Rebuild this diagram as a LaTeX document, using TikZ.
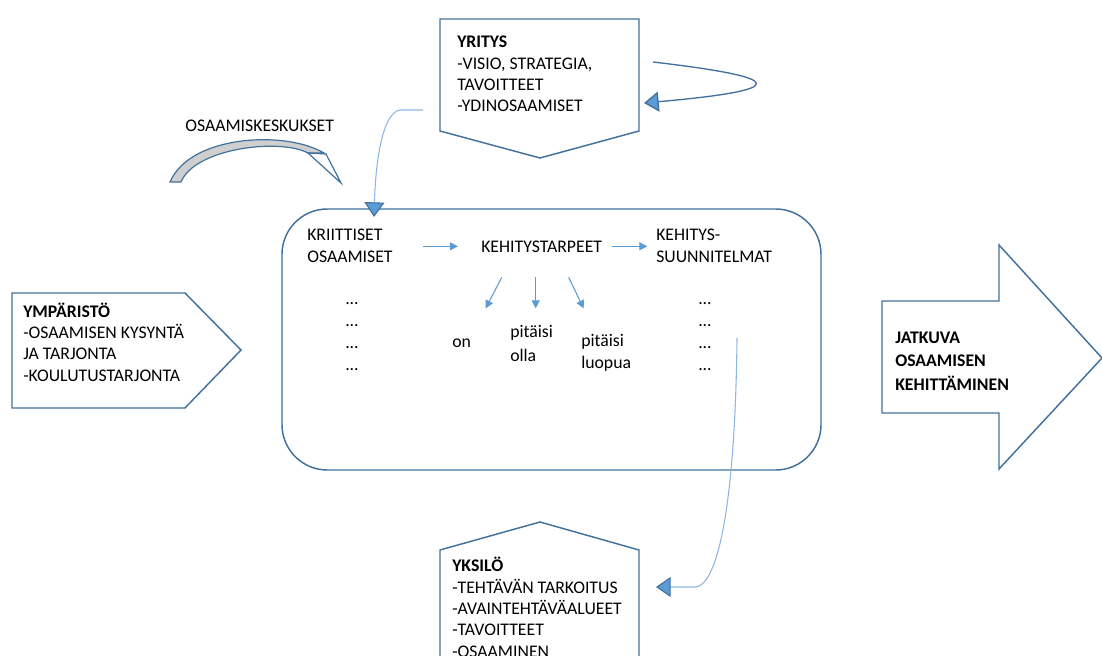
\documentclass[tikz,border=0pt]{standalone}
\usepackage{fontspec}
\setmainfont{Carlito}
\usepackage{tikz}
\usetikzlibrary{arrows.meta,positioning,calc}
\definecolor{KBBlue}   {HTML}{41719C}
\definecolor{KBFill}   {HTML}{5B9BD5}
\definecolor{KBLight}  {HTML}{8DB6E2}
\definecolor{KBGray}   {HTML}{CFCFCF}

\tikzset{
  boxline/.style={draw=KBBlue,line width=1.1pt,line join=miter},
  txt/.style={inner sep=0pt,align=left,font=\fontsize{13.3}{16}\selectfont},
  flow/.style={draw=KBFill,line width=0.8pt,-{Triangle[length=6pt,width=6pt]}},
  bighead/.style={-{Triangle[length=11pt,width=15pt,fill=KBFill,color=KBBlue]}},
}

\begin{document}
\begin{tikzpicture}[x=0.75pt,y=-0.75pt]
    \useasboundingbox (0,0) rectangle (1102,656);
    \clip (0,0) rectangle (1102,656);

    % Shapes
    \draw[boxline] (440,19) -- (639,19) -- (639,131) -- (540,158) -- (440,131) -- cycle;
    \draw[boxline] (440,690) -- (440,550) -- (540,522) -- (639,550) -- (639,690);
    \draw[boxline] (12,293) -- (185,293) -- (241,350) -- (185,408) -- (12,408) -- cycle;
    \draw[boxline] (882,301) -- (999,301) -- (999,245) -- (1102,358) -- (999,469) -- (999,413) -- (882,413) -- cycle;
    \draw[boxline,rounded corners=34pt] (282,209) rectangle (821,470);

    % Osaamiskeskukset arrow
    \filldraw[boxline,fill=KBGray,line width=0.9pt] (170,182) .. controls (190,135) and (285,130) .. (324,153)
      -- (308,153) .. controls (280,138) and (195,148) .. (181,182) -- cycle;
    \filldraw[boxline,fill=white,line width=0.9pt] (308,153) -- (326,154) -- (341,183) -- cycle;
    \node[txt,anchor=base west] (keskus) at (185,132) {OSAAMISKESKUKSET};

    % Box texts (anchor = baseline of last line)
    \node[txt,anchor=base west] (yritys) at (457,112)
      {\textbf{YRITYS}\\-VISIO, STRATEGIA,\\TAVOITTEET\\-YDINOSAAMISET};
    \node[txt,anchor=base west] (ymparisto) at (23,381)
      {\textbf{YMPÄRISTÖ}\\-OSAAMISEN KYSYNTÄ\\JA TARJONTA\\-KOULUTUSTARJONTA};
    \node[txt,anchor=base west] (yksilo) at (452,657)
      {\textbf{YKSILÖ}\\-TEHTÄVÄN TARKOITUS\\-AVAINTEHTÄVÄALUEET\\-TAVOITTEET\\-OSAAMINEN};
    \node[txt,anchor=base west,font=\fontsize{13.3}{17.5}\selectfont\bfseries] (jatkuva) at (895,390)
      {JATKUVA\\OSAAMISEN\\KEHITTÄMINEN};

    % Inside the main box
    \node[txt,anchor=base west] (kriit) at (307,262) {KRIITTISET\\OSAAMISET};
    \node[txt,anchor=base west] (kehi) at (481,252) {KEHITYSTARPEET};
    \node[txt,anchor=base west] (suunn) at (656,262) {KEHITYS-\\SUUNNITELMAT};
    \node[txt,anchor=base west,font=\fontsize{13.3}{16.5}\selectfont] (dotsL) at (345,370) {...\\...\\...\\...};
    \node[txt,anchor=base west,font=\fontsize{13.3}{16.5}\selectfont] (dotsR) at (698,370) {...\\...\\...\\...};
    \node[txt,anchor=base west] (on) at (452,347) {on};
    \node[txt,anchor=base west,font=\fontsize{13.3}{18}\selectfont] (olla) at (510,361) {pitäisi\\olla};
    \node[txt,anchor=base west,font=\fontsize{13.3}{16}\selectfont] (luopua) at (581,368) {pitäisi\\luopua};

    \draw[flow] ($(kehi.west)+(-58,0)$) -- ($(kehi.west)+(-23,0)$);
    \draw[flow] ($(kehi.east)+(10,0)$) -- ($(kehi.east)+(45,0)$);
    \draw[flow] ($(kehi.south)+(-40,25)$) -- ($(kehi.south)+(-56,56)$);
    \draw[flow] ($(kehi.south)+(-6,25)$) -- ($(kehi.south)+(-6,56)$);
    \draw[flow] ($(kehi.south)+(27,25)$) -- ($(kehi.south)+(42,56)$);

    % Connectors
    \coordinate (yrOut) at (653,62);
    \coordinate (yrIn)  at (644,103);
    \draw[KBBlue,line width=1pt,bighead] (yrOut) .. controls (790,78) and (790,90) .. (yrIn);

    \coordinate (yrLeft)  at (423,110);
    \coordinate (boxTop)  at (374,217);
    \draw[KBLight,line width=0.8pt,bighead] (yrLeft) -- (400,110) .. controls (385,112) and (376,150) .. (boxTop);

    \coordinate (suunnEnd) at (737,338);
    \coordinate (ykIn)     at (656,587);
    \draw[KBLight,line width=0.8pt,bighead] (suunnEnd) .. controls (735,520) and (715,587) .. (695,587) -- (ykIn);
  \end{tikzpicture}
\end{document}
